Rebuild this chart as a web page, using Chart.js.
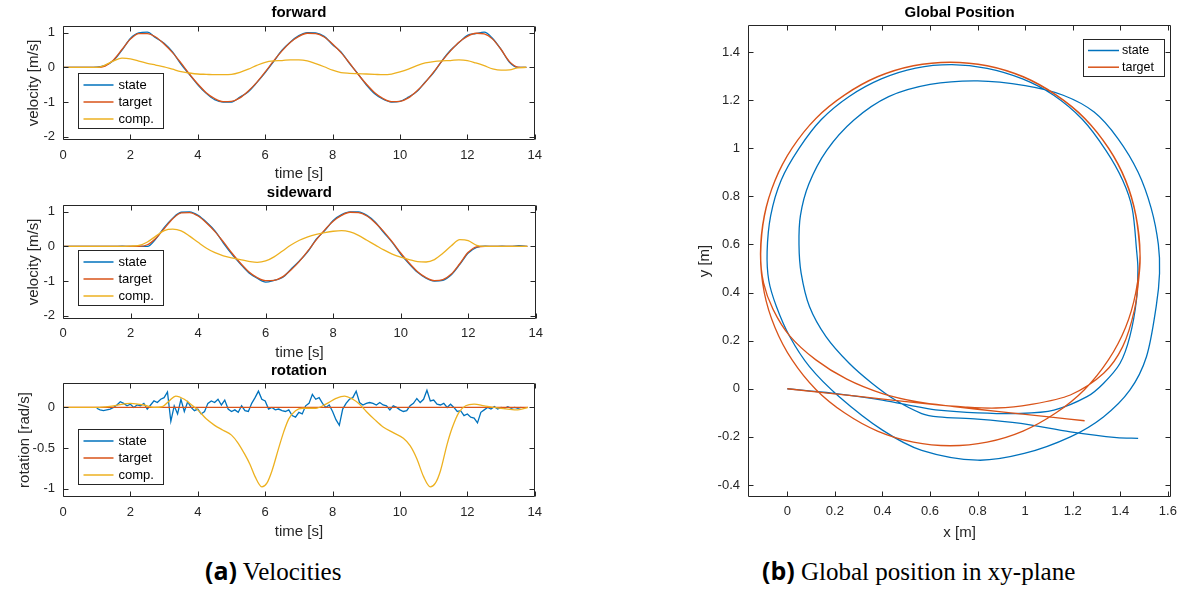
<!DOCTYPE html>
<html>
<head>
<meta charset="utf-8">
<script src="https://cdn.jsdelivr.net/npm/chart.js@4.4.1/dist/chart.umd.min.js"></script>
<style>
  body { margin: 0; background: #fff; width: 1184px; height: 590px; position: relative; overflow: hidden; }
  canvas { position: absolute; }
  .cap { position: absolute; top: 555px; line-height: 30px; font-family: "Liberation Serif", serif; font-size: 25px; color: #000; white-space: nowrap; }
  .cap b { font-family: "Open Sans", sans-serif; font-weight: 700; }
</style>
</head>
<body>
<canvas id="fwd" width="550" height="185" style="left:0;top:0"></canvas>
<canvas id="side" width="550" height="185" style="left:0;top:180px"></canvas>
<canvas id="rot" width="550" height="185" style="left:0;top:358px"></canvas>
<canvas id="pos" width="504" height="545" style="left:680px;top:0"></canvas>
<div class="cap" style="left:205px"><b>(a)</b> Velocities</div>
<div class="cap" style="left:762px"><b>(b)</b> Global position in xy-plane</div>

<script>
// MATLAB default colours
const BLUE = '#0072BD', RED = '#D95319', YEL = '#EDB120', AX = '#262626';
const FONT = '"Liberation Sans", Arial, Helvetica, sans-serif';

// ---- velocity data ----
const tVel = [0, 0.25, 0.5, 0.75, 1, 1.25, 1.5, 1.75, 2, 2.25,
  2.5, 2.75, 3, 3.25, 3.5, 3.75, 4, 4.25, 4.5, 4.75,
  5, 5.25, 5.5, 5.75, 6, 6.25, 6.5, 6.75, 7, 7.25,
  7.5, 7.75, 8, 8.25, 8.5, 8.75, 9, 9.25, 9.5, 9.75,
  10, 10.25, 10.5, 10.75, 11, 11.25, 11.5, 11.75, 12, 12.25,
  12.5, 12.75, 13, 13.25, 13.5, 13.75];

const fwdTarget = [0, 0, 0, 0, 0, 0.04, 0.22, 0.52, 0.82, 0.98,
  0.98, 0.88, 0.68, 0.43, 0.13, -0.19, -0.48, -0.73, -0.9, -0.99,
  -0.98, -0.88, -0.68, -0.43, -0.13, 0.19, 0.48, 0.73, 0.9, 0.99,
  0.98, 0.88, 0.68, 0.43, 0.13, -0.19, -0.48, -0.73, -0.9, -0.99,
  -0.98, -0.88, -0.68, -0.43, -0.13, 0.19, 0.48, 0.73, 0.9, 0.99,
  0.97, 0.82, 0.52, 0.17, 0.01, 0];
const fwdState = [0, 0, 0, 0, 0.01, 0.06, 0.2, 0.5, 0.84, 1.0,
  1.02, 0.86, 0.7, 0.45, 0.1, -0.2, -0.5, -0.75, -0.93, -1.0,
  -1.0, -0.86, -0.7, -0.44, -0.15, 0.17, 0.5, 0.74, 0.92, 1.01,
  1.0, 0.9, 0.66, 0.45, 0.12, -0.18, -0.5, -0.76, -0.92, -1.0,
  -0.98, -0.86, -0.7, -0.42, -0.15, 0.2, 0.5, 0.72, 0.93, 0.98,
  1.02, 0.84, 0.52, 0.15, 0.0, 0.0];
const fwdComp = [0, 0, 0, 0, 0, 0.07, 0.19, 0.27, 0.25, 0.18,
  0.12, 0.07, 0.02, -0.05, -0.12, -0.16, -0.19, -0.2, -0.21, -0.21,
  -0.2, -0.14, -0.05, 0.06, 0.15, 0.19, 0.2, 0.22, 0.22, 0.19,
  0.11, 0.02, -0.08, -0.15, -0.17, -0.18, -0.19, -0.2, -0.21, -0.19,
  -0.13, -0.05, 0.05, 0.13, 0.17, 0.19, 0.2, 0.22, 0.2, 0.13,
  0.05, -0.04, -0.08, -0.07, -0.01, 0];

const sideTarget = [0, 0, 0, 0, 0, 0, 0, 0, 0, 0,
  0.05, 0.24, 0.52, 0.8, 0.97, 0.98, 0.88, 0.68, 0.43, 0.13,
  -0.19, -0.48, -0.73, -0.9, -0.99, -0.98, -0.88, -0.68, -0.43, -0.13,
  0.19, 0.48, 0.73, 0.9, 0.99, 0.98, 0.88, 0.68, 0.43, 0.13,
  -0.19, -0.48, -0.73, -0.9, -0.99, -0.96, -0.8, -0.5, -0.17, -0.01,
  0, 0, 0, 0, 0, 0];
const sideState = [0, 0, 0, 0, 0, 0, 0, 0.01, 0, 0.01,
  0.0, 0.22, 0.55, 0.82, 0.99, 1.0, 0.9, 0.7, 0.45, 0.1,
  -0.22, -0.5, -0.76, -0.92, -1.03, -0.98, -0.9, -0.66, -0.42, -0.15,
  0.21, 0.46, 0.75, 0.92, 1.0, 1.0, 0.9, 0.7, 0.4, 0.12,
  -0.22, -0.5, -0.75, -0.92, -1.0, -0.98, -0.82, -0.52, -0.19, -0.03,
  0.01, 0, 0.01, 0, 0.02, 0];
const sideComp = [0, 0, 0, 0, 0, 0, 0, 0, 0.01, 0.03,
  0.13, 0.3, 0.46, 0.5, 0.45, 0.3, 0.12, -0.05, -0.18, -0.27,
  -0.33, -0.38, -0.43, -0.46, -0.42, -0.3, -0.13, 0.04, 0.18, 0.28,
  0.35, 0.4, 0.44, 0.46, 0.42, 0.32, 0.18, 0.04, -0.1, -0.22,
  -0.31, -0.38, -0.44, -0.45, -0.38, -0.2, 0.02, 0.2, 0.17, 0.03,
  0, 0, 0, 0, 0, 0];

// rotation
const tRotState = [1.0, 1.1, 1.2, 1.3, 1.4, 1.5, 1.6, 1.7, 1.8, 1.9,
  2.0, 2.1, 2.2, 2.3, 2.4, 2.5, 2.6, 2.7, 2.8, 2.9,
  3.0, 3.1, 3.2, 3.3, 3.4, 3.5, 3.6, 3.7, 3.8, 3.9,
  4.0, 4.1, 4.2, 4.3, 4.4, 4.5, 4.6, 4.7, 4.8, 4.9,
  5.0, 5.1, 5.2, 5.3, 5.4, 5.5, 5.6, 5.7, 5.8, 5.9,
  6.0, 6.1, 6.2, 6.3, 6.4, 6.5, 6.6, 6.7, 6.8, 6.9,
  7.0, 7.1, 7.2, 7.3, 7.4, 7.5, 7.6, 7.7, 7.8, 7.9,
  8.0, 8.1, 8.2, 8.3, 8.4, 8.5, 8.6, 8.7, 8.8, 8.9,
  9.0, 9.1, 9.2, 9.3, 9.4, 9.5, 9.6, 9.7, 9.8, 9.9,
  10.0, 10.1, 10.2, 10.3, 10.4, 10.5, 10.6, 10.7, 10.8, 10.9,
  11.0, 11.1, 11.2, 11.3, 11.4, 11.5, 11.6, 11.7, 11.8, 11.9,
  12.0, 12.1, 12.2, 12.3, 12.4, 12.5, 12.6, 12.7, 12.8, 12.9,
  13.0, 13.1, 13.2, 13.3, 13.4, 13.5, 13.6];
const rotState = [-0.01, -0.03, -0.04, -0.03, -0.02, 0.0, 0.03, 0.07, 0.05, 0.02,
  0.04, 0.0, 0.03, 0.02, 0.05, -0.02, 0.03, 0.08, 0.06, 0.1,
  0.12, 0.19, -0.17, 0.02, -0.08, 0.1, -0.05, 0.07, 0.0, -0.04,
  -0.02, -0.08, -0.05, 0.05, 0.08, 0.06, 0.1, 0.03, 0.09, -0.02,
  -0.05, -0.03, -0.06, 0.02, -0.04, -0.05, 0.05, 0.12, 0.2, 0.1,
  0.08, -0.02, 0.0, -0.03, -0.02, -0.04, -0.05, -0.03, -0.1, -0.12,
  -0.06, -0.08, 0.02, 0.05, 0.16, 0.1, 0.12, 0.05, 0.0, 0.03,
  -0.05, -0.15, -0.22, -0.02, 0.05, 0.1, 0.12, 0.2, 0.06, 0.03,
  0.05, 0.06, 0.05, 0.03, 0.06, 0.03, 0.02, -0.03, 0.02, 0.0,
  -0.03, -0.05, -0.04, 0.02, 0.05, 0.11, 0.06, 0.1, 0.21, 0.08,
  0.09, 0.04, 0.03, 0.05, 0.0, 0.04, 0.0, -0.05, -0.04, -0.1,
  -0.08, -0.12, -0.13, -0.19, -0.06, -0.03, 0.0, -0.02, 0.01, -0.02,
  0.0, -0.01, 0.01, -0.01, 0.0, -0.01, 0.0];
const tRotTarget = [0, 13.8];
const rotTarget = [0, 0];
const tRotComp = [0, 1.0, 1.5, 2.0, 2.4, 2.7, 2.95, 3.15, 3.35, 3.6,
  3.85, 4.0, 4.25, 4.5, 4.75, 5.0, 5.2, 5.4, 5.55, 5.7,
  5.9, 6.05, 6.2, 6.4, 6.55, 6.7, 6.9, 7.1, 7.5, 7.8,
  8.1, 8.35, 8.6, 8.8, 9.0, 9.25, 9.5, 9.8, 10.1, 10.3,
  10.5, 10.7, 10.9, 11.05, 11.2, 11.4, 11.55, 11.75, 11.95, 12.2,
  12.5, 12.8, 13.2, 13.5, 13.8];
const rotComp = [0, 0, 0.02, 0.05, 0.03, 0.0, 0.01, 0.08, 0.14, 0.1,
  0.02, -0.03, -0.14, -0.22, -0.28, -0.34, -0.44, -0.58, -0.7, -0.85,
  -0.975, -0.93, -0.78, -0.5, -0.3, -0.14, -0.04, -0.01, -0.01, 0.04,
  0.11, 0.14, 0.1, 0.04, -0.05, -0.15, -0.24, -0.31, -0.38, -0.47,
  -0.63, -0.85, -0.975, -0.93, -0.78, -0.45, -0.25, -0.06, 0.02, 0.04,
  0.02, 0.0, -0.02, -0.03, 0];

// ---- global position (x, y in m), traced in driving order ----
const posTargetX = [0, 0.3, 0.6, 0.75, 0.878, 1.02, 1.19, 1.33, 1.41, 1.46, 1.48,
  1.483, 1.465, 1.422, 1.35, 1.249, 1.13, 0.991, 0.84, 0.685, 0.53, 0.379, 0.24, 0.121, 0.02, -0.052, -0.097, -0.113,
  -0.097, -0.052, 0.02, 0.121, 0.24, 0.379, 0.53, 0.685, 0.84, 0.991, 1.13, 1.249, 1.35, 1.422, 1.465, 1.483,
  1.466, 1.423, 1.351, 1.25, 1.131, 0.992, 0.84, 0.685, 0.53, 0.379, 0.24, 0.121, 0.02, -0.052, -0.096, -0.112,
  -0.1, -0.06, 0.01, 0.12, 0.25, 0.4, 0.55, 0.7,
  0.9, 1.1, 1.25];
const posTargetY = [0, -0.032, -0.064, -0.076, -0.08, -0.066, -0.026, 0.064, 0.175, 0.33, 0.48,
  0.56, 0.72, 0.865, 1.0, 1.124, 1.22, 1.296, 1.342, 1.357, 1.342, 1.296, 1.22, 1.124, 1.0, 0.865, 0.72, 0.56,
  0.40, 0.255, 0.12, -0.004, -0.1, -0.176, -0.222, -0.237, -0.222, -0.176, -0.1, -0.004, 0.12, 0.255, 0.40, 0.56,
  0.72, 0.866, 1.0, 1.125, 1.221, 1.297, 1.343, 1.358, 1.343, 1.297, 1.221, 1.125, 1.0, 0.866, 0.72, 0.56,
  0.44, 0.33, 0.22, 0.12, 0.04, -0.02, -0.055, -0.074,
  -0.096, -0.117, -0.133];

const posStateX = [0, 0.1, 0.22, 0.4, 0.55, 0.635, 0.8, 0.98, 1.121, 1.26, 1.329, 1.399, 1.44, 1.468, 1.474,
  1.469, 1.45, 1.41, 1.34, 1.241, 1.12, 0.989, 0.84, 0.692, 0.54, 0.395, 0.26, 0.143, 0.05, -0.026, -0.07, -0.085,
  -0.078, -0.046, 0.01, 0.093, 0.218, 0.4, 0.565, 0.8, 0.996, 1.19, 1.329, 1.44, 1.51, 1.551, 1.565,
  1.56, 1.53, 1.475, 1.39, 1.29, 1.16,
  1.0, 0.8, 0.6, 0.426, 0.28, 0.165, 0.09, 0.055, 0.049,
  0.058, 0.093, 0.1625, 0.26, 0.357, 0.454, 0.565, 0.635, 0.8, 0.982, 1.19, 1.385, 1.475];
const posStateY = [0, -0.01, -0.022, -0.047, -0.075, -0.089, -0.1, -0.103, -0.089, -0.033, 0.022, 0.106, 0.217, 0.369, 0.5,
  0.57, 0.75, 0.867, 0.99, 1.119, 1.22, 1.288, 1.332, 1.347, 1.333, 1.288, 1.215, 1.119, 1.0, 0.867, 0.72, 0.57,
  0.45, 0.342, 0.217, 0.092, -0.033, -0.172, -0.256, -0.297, -0.269, -0.2, -0.117, -0.006, 0.133, 0.342, 0.48,
  0.6, 0.75, 0.9, 1.04, 1.15, 1.22,
  1.26, 1.28, 1.265, 1.214, 1.117, 0.99, 0.85, 0.72, 0.6,
  0.481, 0.342, 0.217, 0.106, 0.022, -0.047, -0.103, -0.117, -0.126, -0.144, -0.179, -0.203, -0.206];

// tick values
const timeTicks = [0, 2, 4, 6, 8, 10, 12, 14];
const velTicks = [-2, -1, 0, 1];
const rotTicks = [-1, -0.5, 0];
const posXTicks = [0, 0.2, 0.4, 0.6, 0.8, 1, 1.2, 1.4, 1.6];
const posYTicks = [-0.4, -0.2, 0, 0.2, 0.4, 0.6, 0.8, 1, 1.2, 1.4];

Chart.defaults.font.family = FONT;
Chart.defaults.color = AX;

function pts(xs, ys) {
  return xs.map(function (x, i) { return {x: x, y: ys[i]}; });
}

function series(label, color, xs, ys, order, extra) {
  return Object.assign({
    label: label, data: pts(xs, ys), borderColor: color, backgroundColor: color,
    borderWidth: 1.3, pointRadius: 0, fill: false, order: order
  }, extra || {});
}

// box round the axes with inward ticks on all four sides, like MATLAB
const matlabBox = {
  id: 'matlabBox',
  afterDatasetsDraw(chart, args, opts) {
    const ctx = chart.ctx, a = chart.chartArea, sx = chart.scales.x, sy = chart.scales.y;
    const L = opts.tickLen || 5;
    const l = Math.round(a.left) + 0.5, r = Math.round(a.right) - 0.5;
    const t = Math.round(a.top) + 0.5, b = Math.round(a.bottom) - 0.5;
    ctx.save();
    ctx.strokeStyle = AX;
    ctx.lineWidth = 1;
    ctx.beginPath();
    sx.ticks.forEach(function (tk) {
      const px = Math.round(sx.getPixelForValue(tk.value)) + 0.5;
      ctx.moveTo(px, b); ctx.lineTo(px, b - L);
      ctx.moveTo(px, t); ctx.lineTo(px, t + L);
    });
    sy.ticks.forEach(function (tk) {
      const py = Math.round(sy.getPixelForValue(tk.value)) + 0.5;
      ctx.moveTo(l, py); ctx.lineTo(l + L, py);
      ctx.moveTo(r, py); ctx.lineTo(r - L, py);
    });
    ctx.rect(l, t, r - l, b - t);
    ctx.stroke();
    ctx.restore();
  }
};

// legend box placed inside the axes
const boxLegend = {
  id: 'boxLegend',
  afterDraw(chart, args, o) {
    if (!o || o.w === undefined) return;
    const ctx = chart.ctx, a = chart.chartArea;
    const x0 = Math.round(a.left + o.dx) + 0.5, y0 = Math.round(a.top + o.dy) + 0.5;
    ctx.save();
    ctx.fillStyle = '#fff';
    ctx.fillRect(x0, y0, o.w, o.h);
    ctx.strokeStyle = AX;
    ctx.lineWidth = 1;
    ctx.strokeRect(x0, y0, o.w, o.h);
    ctx.font = o.size + 'px ' + FONT;
    ctx.textBaseline = 'middle';
    ctx.textAlign = 'left';
    chart.data.datasets.forEach(function (ds, i) {
      const y = y0 + o.first + i * o.rowH;
      ctx.strokeStyle = ds.borderColor;
      ctx.lineWidth = 1.5;
      ctx.beginPath();
      ctx.moveTo(x0 + o.l0, y);
      ctx.lineTo(x0 + o.l1, y);
      ctx.stroke();
      ctx.fillStyle = '#000';
      ctx.fillText(ds.label, x0 + o.tx, y);
    });
    ctx.restore();
  }
};

function setTicks(list) {
  return function (s) { s.ticks = list.map(function (v) { return {value: v}; }); };
}

function velocityChart(id, c) {
  return new Chart(document.getElementById(id), {
    type: 'line',
    data: { datasets: c.datasets },
    options: {
      responsive: false, animation: false, events: [],
      layout: { padding: { left: 0, right: 12, top: 0, bottom: 0 } },
      scales: {
        x: {
          type: 'linear', min: 0, max: 14, bounds: 'data',
          afterBuildTicks: setTicks(timeTicks),
          afterFit: function (s) { s.height = c.xH; },
          grid: { display: false, drawTicks: false }, border: { display: false },
          ticks: { padding: c.xPad, font: { size: 13 }, color: AX, maxRotation: 0, autoSkip: false,
                   callback: function (v) { return String(v); } },
          title: { display: true, text: 'time [s]', color: AX, font: { size: 15 },
                   padding: { top: 0, bottom: c.xTitlePad } }
        },
        y: {
          type: 'linear', min: c.yMin, max: c.yMax, bounds: 'data',
          afterBuildTicks: setTicks(c.yTicks),
          afterFit: function (s) { s.width = 63; },
          grid: { display: false, drawTicks: false }, border: { display: false },
          ticks: { padding: 8, font: { size: 13 }, color: AX,
                   callback: function (v) { return String(v); } },
          title: { display: true, text: c.yLabel, color: AX, font: { size: 15 },
                   padding: { top: c.yTitlePad, bottom: 0 } }
        }
      },
      plugins: {
        legend: { display: false },
        tooltip: { enabled: false },
        title: { display: true, fullSize: false, text: c.title, color: '#000',
                 font: { size: 15, weight: 'bold' }, padding: { top: 4, bottom: c.titlePadB } },
        matlabBox: { tickLen: 5 },
        boxLegend: { dx: 15, dy: c.legDy, w: 85, h: 55, first: 11.5, rowH: 17, l0: 5, l1: 35, tx: 40, size: 13 }
      }
    },
    plugins: [matlabBox, boxLegend]
  });
}

const smooth = { cubicInterpolationMode: 'monotone' };

velocityChart('fwd', {
  title: 'forward', yLabel: 'velocity [m/s]', yMin: -2.1, yMax: 1.2, yTicks: velTicks,
  xH: 45, xPad: 8, xTitlePad: 2, yTitlePad: 25, titlePadB: 4, legDy: 47,
  datasets: [
    series('state', BLUE, tVel, fwdState, 3, smooth),
    series('target', RED, tVel, fwdTarget, 2, smooth),
    series('comp.', YEL, tVel, fwdComp, 1, smooth)
  ]
});

velocityChart('side', {
  title: 'sideward', yLabel: 'velocity [m/s]', yMin: -2.1, yMax: 1.2, yTicks: velTicks,
  xH: 46, xPad: 7, xTitlePad: 3, yTitlePad: 25, titlePadB: 3, legDy: 45,
  datasets: [
    series('state', BLUE, tVel, sideState, 3, smooth),
    series('target', RED, tVel, sideTarget, 2, smooth),
    series('comp.', YEL, tVel, sideComp, 1, smooth)
  ]
});

velocityChart('rot', {
  title: 'rotation', yLabel: 'rotation [rad/s]', yMin: -1.1, yMax: 0.3, yTicks: rotTicks,
  xH: 46, xPad: 8, xTitlePad: 2, yTitlePad: 16, titlePadB: 3, legDy: 46,
  datasets: [
    series('state', BLUE, tRotState, rotState, 3, { tension: 0 }),
    series('target', RED, tRotTarget, rotTarget, 2),
    series('comp.', YEL, tRotComp, rotComp, 1, smooth)
  ]
});

// global position
new Chart(document.getElementById('pos'), {
  type: 'line',
  data: {
    datasets: [
      series('state', BLUE, posStateX, posStateY, 2, { tension: 0.3 }),
      series('target', RED, posTargetX, posTargetY, 1, { tension: 0.3 })
    ]
  },
  options: {
    responsive: false, animation: false, events: [],
    layout: { padding: { left: 0, right: 9, top: 0, bottom: 0 } },
    scales: {
      x: {
        type: 'linear', min: -0.1654, max: 1.6138, bounds: 'data',
        afterBuildTicks: setTicks(posXTicks),
        afterFit: function (s) { s.height = 48; },
        grid: { display: false, drawTicks: false }, border: { display: false },
        ticks: { padding: 7, font: { size: 13 }, color: AX, maxRotation: 0, autoSkip: false,
                 callback: function (v) { return String(v); } },
        title: { display: true, text: 'x [m]', color: AX, font: { size: 15 }, padding: { top: 0, bottom: 3 } }
      },
      y: {
        type: 'linear', min: -0.45, max: 1.512, bounds: 'data',
        afterBuildTicks: setTicks(posYTicks),
        afterFit: function (s) { s.width = 68; },
        grid: { display: false, drawTicks: false }, border: { display: false },
        ticks: { padding: 8, font: { size: 13 }, color: AX, autoSkip: false,
                 callback: function (v) { return String(v); } },
        title: { display: true, text: 'y [m]', color: AX, font: { size: 15 }, padding: { top: 16, bottom: 0 } }
      }
    },
    plugins: {
      legend: { display: false },
      tooltip: { enabled: false },
      title: { display: true, fullSize: false, text: 'Global Position', color: '#000',
               font: { size: 15, weight: 'bold' }, padding: { top: 4, bottom: 3 } },
      matlabBox: { tickLen: 5 },
      boxLegend: { dx: 335, dy: 14, w: 81, h: 37, first: 11, rowH: 16.7, l0: 4.5, l1: 35.5, tx: 38.5, size: 12.5 }
    }
  },
  plugins: [matlabBox, boxLegend]
});
</script>
</body>
</html>
